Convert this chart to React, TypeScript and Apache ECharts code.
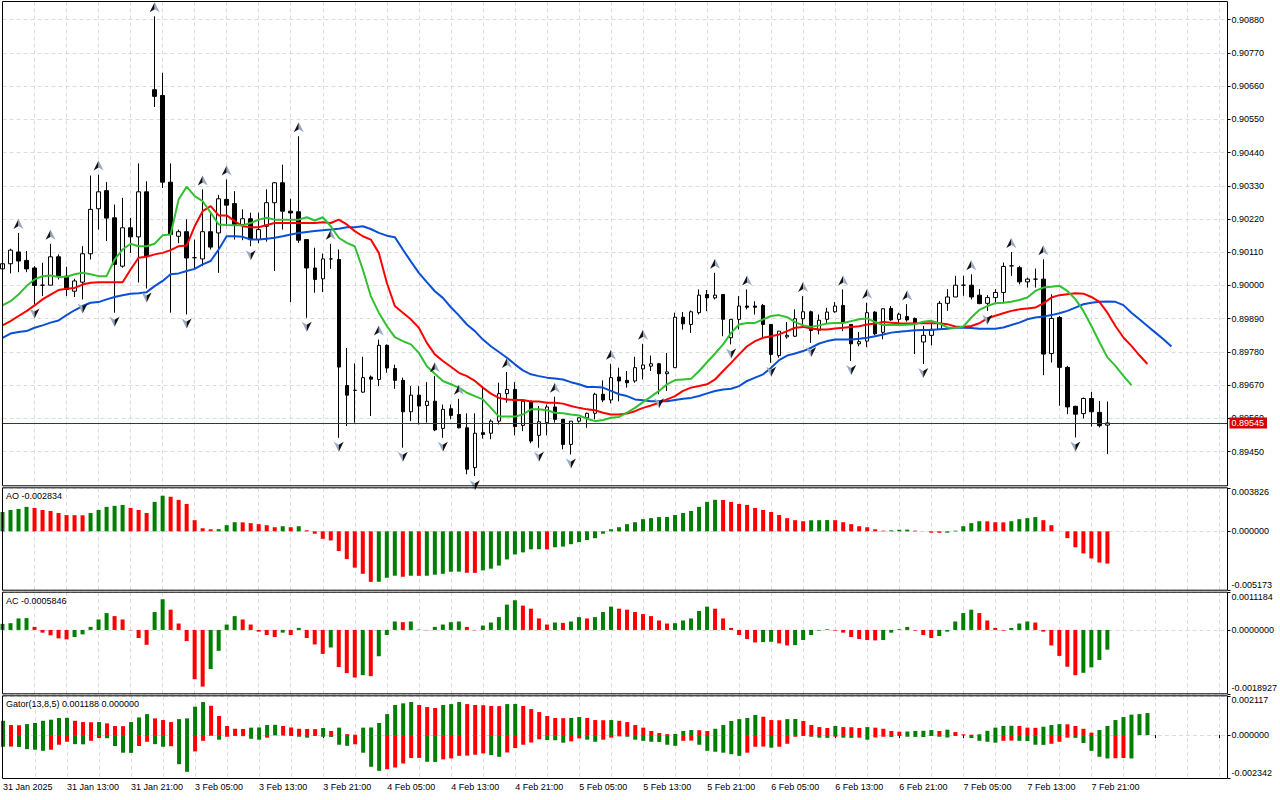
import React, { useEffect, useRef } from "react";
import * as echarts from "echarts";

const XLABELS = ["31 Jan 2025", "31 Jan 13:00", "31 Jan 21:00", "3 Feb 05:00", "3 Feb 13:00", "3 Feb 21:00", "4 Feb 05:00", "4 Feb 13:00", "4 Feb 21:00", "5 Feb 05:00", "5 Feb 13:00", "5 Feb 21:00", "6 Feb 05:00", "6 Feb 13:00", "6 Feb 21:00", "7 Feb 05:00", "7 Feb 13:00", "7 Feb 21:00"];

const OPEN = [0.90055, 0.90072, 0.90111, 0.90083, 0.90058, 0.90001, 0.90001, 0.90095, 0.90031, 0.89981, 0.90011, 0.90105, 0.90254, 0.90314, 0.90224, 0.90064, 0.90191, 0.90161, 0.90310, 0.90648, 0.90629, 0.90342, 0.90163, 0.90178, 0.90092, 0.90088, 0.90178, 0.90174, 0.90285, 0.90271, 0.90202, 0.90221, 0.90152, 0.90196, 0.90274, 0.90340, 0.90246, 0.90244, 0.90152, 0.90058, 0.90022, 0.90088, 0.90086, 0.89669, 0.89653, 0.89647, 0.89697, 0.89689, 0.89802, 0.89725, 0.89686, 0.89582, 0.89637, 0.89603, 0.89617, 0.89527, 0.89592, 0.89573, 0.89529, 0.89397, 0.89513, 0.89511, 0.89551, 0.89642, 0.89656, 0.89537, 0.89617, 0.89504, 0.89546, 0.89598, 0.89557, 0.89474, 0.89551, 0.89562, 0.89577, 0.89640, 0.89621, 0.89697, 0.89686, 0.89684, 0.89724, 0.89733, 0.89741, 0.89708, 0.89728, 0.89895, 0.89871, 0.89910, 0.89970, 0.89959, 0.89970, 0.89827, 0.89888, 0.89932, 0.89932, 0.89934, 0.89871, 0.89768, 0.89830, 0.89832, 0.89890, 0.89913, 0.89852, 0.89888, 0.89913, 0.89934, 0.89871, 0.89807, 0.89816, 0.89912, 0.89845, 0.89924, 0.89888, 0.89897, 0.89891, 0.89813, 0.89835, 0.89855, 0.89941, 0.89962, 0.90001, 0.90001, 0.89968, 0.89941, 0.89960, 0.89977, 0.90065, 0.90059, 0.90012, 0.90021, 0.90021, 0.89775, 0.89894, 0.89729, 0.89600, 0.89576, 0.89626, 0.89580, 0.89538];
const HIGH = [0.90080, 0.90122, 0.90174, 0.90114, 0.90064, 0.90075, 0.90138, 0.90103, 0.90062, 0.90022, 0.90130, 0.90364, 0.90367, 0.90342, 0.90268, 0.90290, 0.90224, 0.90404, 0.90345, 0.90891, 0.90704, 0.90404, 0.90185, 0.90219, 0.90152, 0.90318, 0.90240, 0.90300, 0.90351, 0.90312, 0.90252, 0.90241, 0.90241, 0.90318, 0.90342, 0.90400, 0.90287, 0.90494, 0.90152, 0.90125, 0.90106, 0.90138, 0.90119, 0.89793, 0.89742, 0.89764, 0.89702, 0.89821, 0.89805, 0.89738, 0.89695, 0.89667, 0.89667, 0.89680, 0.89700, 0.89606, 0.89606, 0.89625, 0.89577, 0.89577, 0.89667, 0.89557, 0.89678, 0.89714, 0.89680, 0.89623, 0.89617, 0.89601, 0.89606, 0.89632, 0.89557, 0.89551, 0.89562, 0.89579, 0.89645, 0.89686, 0.89741, 0.89728, 0.89717, 0.89764, 0.89807, 0.89768, 0.89744, 0.89777, 0.89910, 0.89912, 0.89917, 0.89987, 0.89985, 0.90042, 0.89970, 0.89888, 0.89965, 0.89987, 0.89948, 0.89939, 0.89871, 0.89849, 0.89879, 0.89921, 0.89965, 0.89917, 0.89904, 0.89926, 0.89945, 0.89987, 0.89871, 0.89846, 0.89943, 0.89915, 0.89925, 0.89932, 0.89910, 0.89938, 0.89894, 0.89866, 0.89877, 0.89949, 0.89988, 0.90032, 0.90032, 0.90037, 0.89988, 0.89968, 0.89988, 0.90076, 0.90111, 0.90065, 0.90026, 0.90056, 0.90087, 0.89971, 0.89899, 0.89734, 0.89602, 0.89629, 0.89648, 0.89618, 0.89616];
const LOW = [0.90040, 0.90040, 0.90044, 0.90044, 0.89937, 0.89965, 0.90001, 0.90020, 0.89965, 0.89962, 0.89954, 0.90086, 0.90185, 0.90147, 0.89910, 0.90059, 0.90108, 0.90010, 0.89990, 0.90591, 0.90323, 0.89910, 0.90140, 0.89904, 0.90055, 0.90064, 0.90119, 0.90042, 0.90196, 0.90152, 0.90150, 0.90130, 0.90140, 0.90145, 0.90048, 0.90185, 0.89945, 0.90141, 0.89893, 0.89976, 0.89978, 0.90055, 0.89496, 0.89535, 0.89546, 0.89645, 0.89568, 0.89667, 0.89711, 0.89658, 0.89463, 0.89551, 0.89540, 0.89546, 0.89518, 0.89496, 0.89557, 0.89527, 0.89375, 0.89369, 0.89493, 0.89491, 0.89540, 0.89612, 0.89504, 0.89518, 0.89478, 0.89463, 0.89504, 0.89546, 0.89458, 0.89441, 0.89546, 0.89529, 0.89557, 0.89614, 0.89610, 0.89617, 0.89662, 0.89678, 0.89689, 0.89717, 0.89640, 0.89651, 0.89728, 0.89854, 0.89843, 0.89904, 0.89915, 0.89954, 0.89832, 0.89805, 0.89854, 0.89921, 0.89904, 0.89824, 0.89744, 0.89761, 0.89824, 0.89830, 0.89865, 0.89810, 0.89838, 0.89873, 0.89910, 0.89849, 0.89750, 0.89799, 0.89796, 0.89835, 0.89822, 0.89883, 0.89872, 0.89880, 0.89773, 0.89740, 0.89802, 0.89855, 0.89916, 0.89962, 0.89966, 0.89954, 0.89938, 0.89916, 0.89943, 0.89941, 0.90032, 0.90004, 0.89993, 0.89993, 0.89703, 0.89745, 0.89602, 0.89574, 0.89497, 0.89560, 0.89533, 0.89530, 0.89442];
const CLOSE = [0.90072, 0.90117, 0.90081, 0.90055, 0.90000, 0.90001, 0.90095, 0.90031, 0.89987, 0.90015, 0.90105, 0.90252, 0.90310, 0.90223, 0.90070, 0.90191, 0.90161, 0.90310, 0.90097, 0.90626, 0.90342, 0.90169, 0.90178, 0.90091, 0.90092, 0.90178, 0.90127, 0.90287, 0.90266, 0.90202, 0.90221, 0.90152, 0.90185, 0.90274, 0.90340, 0.90246, 0.90240, 0.90150, 0.90058, 0.90020, 0.90088, 0.90088, 0.89730, 0.89637, 0.89653, 0.89695, 0.89690, 0.89802, 0.89727, 0.89686, 0.89582, 0.89637, 0.89601, 0.89617, 0.89522, 0.89590, 0.89570, 0.89529, 0.89392, 0.89511, 0.89507, 0.89551, 0.89642, 0.89656, 0.89533, 0.89617, 0.89485, 0.89549, 0.89598, 0.89557, 0.89474, 0.89551, 0.89562, 0.89577, 0.89640, 0.89621, 0.89695, 0.89684, 0.89678, 0.89728, 0.89737, 0.89741, 0.89708, 0.89714, 0.89895, 0.89873, 0.89913, 0.89968, 0.89959, 0.89968, 0.89888, 0.89888, 0.89932, 0.89928, 0.89928, 0.89871, 0.89772, 0.89849, 0.89835, 0.89890, 0.89913, 0.89851, 0.89885, 0.89912, 0.89932, 0.89879, 0.89807, 0.89814, 0.89910, 0.89840, 0.89923, 0.89886, 0.89905, 0.89886, 0.89874, 0.89835, 0.89855, 0.89941, 0.89962, 0.90001, 0.90001, 0.89962, 0.89940, 0.89960, 0.89977, 0.90063, 0.90065, 0.90012, 0.90021, 0.90021, 0.89773, 0.89891, 0.89729, 0.89598, 0.89574, 0.89626, 0.89582, 0.89536, 0.89545];

const JAW = [0.89827, 0.89841, 0.89846, 0.89849, 0.89860, 0.89868, 0.89877, 0.89884, 0.89902, 0.89918, 0.89932, 0.89943, 0.89945, 0.89954, 0.89962, 0.89968, 0.89973, 0.89974, 0.89978, 0.89998, 0.90015, 0.90037, 0.90040, 0.90048, 0.90055, 0.90070, 0.90081, 0.90119, 0.90163, 0.90163, 0.90161, 0.90152, 0.90152, 0.90155, 0.90158, 0.90163, 0.90169, 0.90174, 0.90177, 0.90180, 0.90183, 0.90185, 0.90188, 0.90193, 0.90193, 0.90196, 0.90187, 0.90174, 0.90165, 0.90160, 0.90119, 0.90080, 0.90042, 0.90011, 0.89981, 0.89959, 0.89928, 0.89901, 0.89871, 0.89849, 0.89821, 0.89799, 0.89780, 0.89761, 0.89739, 0.89719, 0.89706, 0.89700, 0.89695, 0.89692, 0.89689, 0.89680, 0.89673, 0.89664, 0.89664, 0.89662, 0.89651, 0.89640, 0.89634, 0.89623, 0.89620, 0.89617, 0.89617, 0.89617, 0.89621, 0.89625, 0.89628, 0.89634, 0.89643, 0.89651, 0.89656, 0.89658, 0.89667, 0.89684, 0.89695, 0.89706, 0.89728, 0.89753, 0.89768, 0.89775, 0.89783, 0.89794, 0.89808, 0.89816, 0.89821, 0.89821, 0.89821, 0.89824, 0.89827, 0.89832, 0.89838, 0.89844, 0.89847, 0.89849, 0.89852, 0.89853, 0.89853, 0.89855, 0.89857, 0.89860, 0.89860, 0.89859, 0.89857, 0.89857, 0.89857, 0.89861, 0.89869, 0.89877, 0.89888, 0.89894, 0.89897, 0.89902, 0.89908, 0.89916, 0.89927, 0.89938, 0.89943, 0.89946, 0.89947, 0.89946, 0.89935, 0.89910, 0.89888, 0.89866, 0.89844, 0.89822, 0.89798];
const TEETH = [0.89868, 0.89882, 0.89899, 0.89915, 0.89934, 0.89954, 0.89970, 0.89985, 0.89989, 0.89992, 0.90003, 0.90009, 0.90011, 0.90011, 0.90011, 0.90011, 0.90053, 0.90092, 0.90095, 0.90103, 0.90108, 0.90117, 0.90130, 0.90132, 0.90196, 0.90246, 0.90263, 0.90232, 0.90232, 0.90213, 0.90196, 0.90193, 0.90193, 0.90200, 0.90207, 0.90207, 0.90207, 0.90207, 0.90207, 0.90207, 0.90209, 0.90207, 0.90218, 0.90202, 0.90180, 0.90163, 0.90152, 0.90108, 0.90009, 0.89932, 0.89910, 0.89888, 0.89860, 0.89810, 0.89772, 0.89750, 0.89731, 0.89711, 0.89700, 0.89684, 0.89662, 0.89642, 0.89628, 0.89623, 0.89621, 0.89621, 0.89616, 0.89616, 0.89612, 0.89612, 0.89609, 0.89601, 0.89595, 0.89590, 0.89587, 0.89579, 0.89573, 0.89573, 0.89576, 0.89584, 0.89595, 0.89603, 0.89612, 0.89623, 0.89634, 0.89651, 0.89662, 0.89667, 0.89673, 0.89689, 0.89717, 0.89744, 0.89772, 0.89799, 0.89816, 0.89827, 0.89832, 0.89838, 0.89849, 0.89860, 0.89863, 0.89858, 0.89854, 0.89854, 0.89858, 0.89860, 0.89863, 0.89865, 0.89871, 0.89874, 0.89879, 0.89877, 0.89875, 0.89874, 0.89875, 0.89875, 0.89875, 0.89875, 0.89872, 0.89864, 0.89863, 0.89866, 0.89875, 0.89891, 0.89900, 0.89908, 0.89916, 0.89921, 0.89924, 0.89927, 0.89941, 0.89960, 0.89968, 0.89971, 0.89974, 0.89973, 0.89962, 0.89946, 0.89910, 0.89866, 0.89828, 0.89800, 0.89769, 0.89740];
const LIPS = [0.89934, 0.89948, 0.89970, 0.89998, 0.90020, 0.90031, 0.90033, 0.90028, 0.90029, 0.90037, 0.90042, 0.90037, 0.90031, 0.90031, 0.90086, 0.90119, 0.90138, 0.90130, 0.90130, 0.90138, 0.90166, 0.90169, 0.90285, 0.90327, 0.90296, 0.90279, 0.90241, 0.90202, 0.90200, 0.90199, 0.90199, 0.90207, 0.90218, 0.90224, 0.90218, 0.90218, 0.90218, 0.90218, 0.90226, 0.90215, 0.90226, 0.90196, 0.90158, 0.90141, 0.90130, 0.90053, 0.89965, 0.89910, 0.89866, 0.89829, 0.89816, 0.89805, 0.89777, 0.89733, 0.89708, 0.89684, 0.89673, 0.89662, 0.89645, 0.89634, 0.89623, 0.89595, 0.89566, 0.89566, 0.89566, 0.89573, 0.89590, 0.89590, 0.89587, 0.89579, 0.89577, 0.89573, 0.89570, 0.89559, 0.89551, 0.89555, 0.89562, 0.89565, 0.89579, 0.89595, 0.89614, 0.89632, 0.89651, 0.89673, 0.89687, 0.89689, 0.89691, 0.89717, 0.89746, 0.89775, 0.89805, 0.89843, 0.89871, 0.89876, 0.89876, 0.89888, 0.89899, 0.89902, 0.89895, 0.89879, 0.89868, 0.89863, 0.89868, 0.89874, 0.89876, 0.89876, 0.89882, 0.89888, 0.89891, 0.89879, 0.89869, 0.89869, 0.89869, 0.89870, 0.89872, 0.89880, 0.89883, 0.89875, 0.89861, 0.89859, 0.89864, 0.89894, 0.89919, 0.89932, 0.89941, 0.89943, 0.89946, 0.89952, 0.89960, 0.89982, 0.89993, 0.89996, 0.89999, 0.89982, 0.89955, 0.89916, 0.89866, 0.89813, 0.89762, 0.89734, 0.89701, 0.89670];

const FRACTAL_UP = [2, 6, 12, 19, 25, 28, 37, 41, 47, 54, 57, 63, 69, 76, 80, 89, 93, 100, 105, 108, 113, 121, 126, 130];
const FRACTAL_DOWN = [4, 10, 14, 18, 23, 31, 38, 42, 50, 55, 59, 67, 71, 82, 91, 96, 101, 106, 115, 123, 134];

const AO = [0.00170, 0.00188, 0.00197, 0.00215, 0.00206, 0.00188, 0.00179, 0.00161, 0.00143, 0.00142, 0.00141, 0.00161, 0.00188, 0.00215, 0.00224, 0.00232, 0.00206, 0.00188, 0.00161, 0.00259, 0.00313, 0.00304, 0.00277, 0.00241, 0.00098, 0.00027, 0.00018, 0.00019, 0.00054, 0.00080, 0.00079, 0.00072, 0.00063, 0.00054, 0.00036, 0.00045, 0.00036, 0.00045, 0.00009, -0.00021, -0.00066, -0.00080, -0.00173, -0.00244, -0.00319, -0.00373, -0.00444, -0.00443, -0.00408, -0.00390, -0.00399, -0.00390, -0.00391, -0.00390, -0.00381, -0.00373, -0.00355, -0.00354, -0.00364, -0.00365, -0.00343, -0.00328, -0.00301, -0.00247, -0.00203, -0.00185, -0.00158, -0.00157, -0.00159, -0.00140, -0.00134, -0.00113, -0.00095, -0.00077, -0.00060, -0.00021, 0.00018, 0.00036, 0.00063, 0.00080, 0.00107, 0.00116, 0.00125, 0.00126, 0.00143, 0.00161, 0.00179, 0.00215, 0.00259, 0.00277, 0.00276, 0.00259, 0.00241, 0.00232, 0.00206, 0.00188, 0.00170, 0.00143, 0.00116, 0.00098, 0.00089, 0.00097, 0.00098, 0.00099, 0.00098, 0.00080, 0.00063, 0.00045, 0.00036, 0.00018, 0.00006, 0.00009, 0.00014, 0.00015, 0.00006, -0.00001, -0.00012, -0.00013, -0.00012, 0.00006, 0.00045, 0.00072, 0.00089, 0.00088, 0.00080, 0.00079, 0.00089, 0.00107, 0.00116, 0.00125, 0.00098, 0.00054, -0.00001, -0.00060, -0.00140, -0.00194, -0.00238, -0.00274, -0.002834];
const AC = [0.00018, 0.00020, 0.00034, 0.00035, 0.00009, -0.00008, -0.00016, -0.00025, -0.00028, -0.00021, -0.00013, 0.00009, 0.00031, 0.00050, 0.00041, 0.00031, -0.00001, -0.00024, -0.00044, 0.00053, 0.00091, 0.00060, 0.00019, -0.00033, -0.00146, -0.00168, -0.00116, -0.00062, 0.00016, 0.00041, 0.00031, 0.00016, -0.00005, -0.00015, -0.00021, -0.00008, -0.00015, 0.00006, -0.00024, -0.00043, -0.00071, -0.00052, -0.00110, -0.00128, -0.00141, -0.00134, -0.00137, -0.00078, -0.00015, 0.00025, 0.00023, 0.00025, 0.00001, -0.00001, 0.00009, 0.00016, 0.00023, 0.00025, 0.00009, -0.00001, 0.00013, 0.00022, 0.00038, 0.00075, 0.00088, 0.00072, 0.00063, 0.00034, 0.00016, 0.00022, 0.00021, 0.00025, 0.00038, 0.00034, 0.00038, 0.00053, 0.00069, 0.00063, 0.00060, 0.00053, 0.00047, 0.00041, 0.00028, 0.00019, 0.00020, 0.00028, 0.00034, 0.00056, 0.00069, 0.00063, 0.00034, 0.00006, -0.00015, -0.00027, -0.00037, -0.00036, -0.00035, -0.00040, -0.00046, -0.00045, -0.00030, -0.00015, -0.00002, 0.00002, -0.00002, -0.00008, -0.00021, -0.00027, -0.00030, -0.00031, -0.00030, -0.00008, 0.00002, 0.00009, -0.00002, -0.00015, -0.00024, -0.00018, -0.00005, 0.00025, 0.00050, 0.00060, 0.00050, 0.00028, 0.00006, -0.00002, 0.00006, 0.00019, 0.00025, 0.00022, -0.00005, -0.00046, -0.00077, -0.00109, -0.00134, -0.00127, -0.00111, -0.00089, -0.0005846];
const GATOR_UP = [0.00077, 0.00054, 0.00053, 0.00059, 0.00065, 0.00077, 0.00083, 0.00092, 0.00093, 0.00077, 0.00070, 0.00069, 0.00070, 0.00063, 0.00049, 0.00048, 0.00070, 0.00095, 0.00113, 0.00090, 0.00081, 0.00070, 0.00086, 0.00090, 0.00153, 0.00178, 0.00158, 0.00103, 0.00049, 0.00034, 0.00033, 0.00040, 0.00041, 0.00054, 0.00055, 0.00049, 0.00041, 0.00034, 0.00033, 0.00032, 0.00038, 0.00022, 0.00040, 0.00005, 0.00002, 0.00040, 0.00041, 0.00065, 0.00113, 0.00162, 0.00171, 0.00178, 0.00162, 0.00151, 0.00146, 0.00162, 0.00167, 0.00178, 0.00167, 0.00162, 0.00161, 0.00157, 0.00156, 0.00167, 0.00168, 0.00157, 0.00140, 0.00124, 0.00103, 0.00092, 0.00091, 0.00092, 0.00097, 0.00092, 0.00081, 0.00080, 0.00081, 0.00077, 0.00070, 0.00054, 0.00040, 0.00022, 0.00011, 0.00005, 0.00006, 0.00022, 0.00027, 0.00026, 0.00022, 0.00034, 0.00054, 0.00076, 0.00086, 0.00092, 0.00108, 0.00099, 0.00081, 0.00080, 0.00086, 0.00087, 0.00076, 0.00054, 0.00043, 0.00038, 0.00049, 0.00043, 0.00042, 0.00038, 0.00043, 0.00040, 0.00034, 0.00022, 0.00018, 0.00019, 0.00022, 0.00023, 0.00027, 0.00022, 0.00029, 0.00016, 0.00004, 0.00002, 0.00004, 0.00023, 0.00040, 0.00049, 0.00050, 0.00049, 0.00040, 0.00039, 0.00045, 0.00054, 0.00059, 0.00058, 0.00049, 0.00034, 0.00013, 0.00027, 0.00049, 0.00081, 0.00097, 0.00110, 0.00113, 0.001188];
const GATOR_DOWN = [-0.00063, -0.00062, -0.00064, -0.00076, -0.00079, -0.00085, -0.00079, -0.00052, -0.00036, -0.00049, -0.00050, -0.00031, -0.00016, -0.00017, -0.00059, -0.00095, -0.00096, -0.00059, -0.00036, -0.00049, -0.00063, -0.00060, -0.00157, -0.00198, -0.00088, -0.00031, -0.00004, -0.00025, -0.00009, -0.00005, -0.00006, -0.00020, -0.00025, -0.00014, -0.00002, -0.00003, -0.00005, -0.00009, -0.00014, -0.00005, -0.00009, -0.00010, -0.00052, -0.00058, -0.00050, -0.00095, -0.00171, -0.00193, -0.00184, -0.00175, -0.00153, -0.00124, -0.00123, -0.00144, -0.00145, -0.00131, -0.00126, -0.00112, -0.00111, -0.00106, -0.00099, -0.00108, -0.00117, -0.00094, -0.00070, -0.00052, -0.00040, -0.00023, -0.00027, -0.00028, -0.00041, -0.00034, -0.00018, -0.00025, -0.00036, -0.00025, -0.00014, -0.00007, -0.00009, -0.00025, -0.00031, -0.00036, -0.00037, -0.00052, -0.00058, -0.00031, -0.00030, -0.00052, -0.00085, -0.00090, -0.00095, -0.00103, -0.00112, -0.00095, -0.00063, -0.00062, -0.00068, -0.00063, -0.00047, -0.00009, -0.00005, -0.00009, -0.00014, -0.00015, -0.00009, -0.00014, -0.00015, -0.00014, -0.00025, -0.00013, -0.00009, -0.00010, -0.00005, -0.00009, -0.00010, -0.00011, -0.00005, -0.00009, -0.00013, -0.00005, -0.00002, -0.00016, -0.00031, -0.00036, -0.00041, -0.00031, -0.00030, -0.00031, -0.00032, -0.00052, -0.00053, -0.00047, -0.00036, -0.00014, -0.00015, -0.00043, -0.00085, -0.00117, -0.00126, -0.00125, -0.00124, -0.00126];

const PRICE_TICKS = [0.9088, 0.9077, 0.9066, 0.9055, 0.9044, 0.9033, 0.9022, 0.9011, 0.9, 0.8989, 0.8978, 0.8967, 0.8956, 0.8945];
const LAST_PRICE = 0.89545;
const AO_TICKS = [0.003826, 0, -0.005173];
const AC_TICKS = [0.0011184, 0, -0.0018927];
const GATOR_TICKS = [0.002117, 0, -0.002342];

const N_CATS = 154;
const GREEN = "#008000";
const RED = "#ff0000";
const FONT = "Liberation Sans, Arial, sans-serif";

function App() {
  const ref = useRef<HTMLDivElement>(null);

  useEffect(() => {
    if (!ref.current) return;
    const chart = echarts.init(ref.current, null, { renderer: "svg" });

    const cats = Array.from({ length: N_CATS }, (_, i) => String(i));
    const L = 2.5;
    const W = 1225;
    const panels = [
      { top: 1.5, height: 484.3 },
      { top: 487.8, height: 102.4 },
      { top: 592.2, height: 101.6 },
      { top: 695.8, height: 82.7 },
    ];
    const grids = panels.map((g) => ({ left: L, width: W, top: g.top, height: g.height, show: false }));
    const frames = panels.map((g) => ({
      type: "rect",
      z: 100,
      silent: true,
      shape: { x: L, y: g.top, width: W, height: g.height },
      style: { fill: "none", stroke: "#000", lineWidth: 1 },
    }));

    const gridSplit = { show: true, lineStyle: { color: "#dcdcdc", type: [4, 3] as any, width: 1 } };

    const xAxes = [0, 1, 2, 3].map((gi) => ({
      type: "category",
      gridIndex: gi,
      data: cats,
      boundaryGap: false,
      axisLine: { show: false },
      axisTick: gi === 3 ? { show: true, interval: 7, length: 3, lineStyle: { color: "#000" } } : { show: false },
      axisLabel:
        gi === 3
          ? {
              show: true,
              interval: 7,
              align: "left",
              margin: 4,
              fontSize: 9,
              fontFamily: FONT,
              color: "#000",
              formatter: (_v: string, idx: number) => (idx % 8 === 0 && XLABELS[idx / 8]) || "",
            }
          : { show: false },
      splitLine: { ...gridSplit, interval: (idx: number) => idx % 4 === 0 && idx > 0 },
    }));

    const edgeRich = {
      top: { padding: [9, 0, 0, 0], fontSize: 9, fontFamily: FONT, color: "#000" },
      bot: { padding: [0, 0, 11, 0], fontSize: 9, fontFamily: FONT, color: "#000" },
      mid: { fontSize: 9, fontFamily: FONT, color: "#000" },
    };
    const subAxis = (gi: number, ticks: number[], digits: number) => ({
      type: "value",
      gridIndex: gi,
      position: "right",
      min: ticks[2],
      max: ticks[0],
      axisLine: { show: false },
      axisTick: { show: true, length: 3, lineStyle: { color: "#000" }, customValues: ticks },
      axisLabel: {
        show: true,
        margin: 4,
        customValues: ticks,
        fontSize: 9,
        fontFamily: FONT,
        color: "#000",
        rich: edgeRich,
        formatter: (v: number) => {
          const s = v === 0 ? (0).toFixed(digits) : v.toFixed(digits);
          if (Math.abs(v - ticks[0]) < 1e-12) return `{top|${s}}`;
          if (Math.abs(v - ticks[2]) < 1e-12) return `{bot|${s}}`;
          return `{mid|${s}}`;
        },
      },
      splitLine: gridSplit,
    });

    const yAxes = [
      {
        type: "value",
        gridIndex: 0,
        position: "right",
        min: 0.89337,
        max: 0.9094,
        axisLine: { show: false },
        axisTick: { show: true, length: 3, lineStyle: { color: "#000" }, customValues: PRICE_TICKS },
        axisLabel: {
          show: true,
          margin: 4,
          customValues: PRICE_TICKS,
          fontSize: 9,
          fontFamily: FONT,
          color: "#000",
          formatter: (v: number) => v.toFixed(5),
        },
        splitLine: gridSplit,
      },
      subAxis(1, AO_TICKS, 6),
      subAxis(2, AC_TICKS, 7),
      subAxis(3, GATOR_TICKS, 6),
    ];

    const trendColored = (arr: number[]) =>
      arr.map((v, i) => ({ value: v, itemStyle: { color: i === 0 || v > arr[i - 1] ? GREEN : RED } }));
    const absColored = (arr: number[]) =>
      arr.map((v, i) => ({ value: v, itemStyle: { color: i === 0 || Math.abs(v) > Math.abs(arr[i - 1]) ? GREEN : RED } }));

    const candleData = OPEN.map((o, i) => [o, CLOSE[i], LOW[i], HIGH[i]]);
    const upPts = FRACTAL_UP.map((i) => [i, HIGH[i]]);
    const dnPts = FRACTAL_DOWN.map((i) => [i, LOW[i]]);

    const fractal = (data: number[][], path: string, color: string, off: number[]) => ({
      type: "scatter",
      xAxisIndex: 0,
      yAxisIndex: 0,
      data,
      symbol: path,
      symbolSize: [5, 10],
      symbolOffset: off,
      itemStyle: { color, opacity: 1 },
      silent: true,
      z: 5,
    });

    const option: any = {
      animation: false,
      backgroundColor: "#fff",
      grid: grids,
      xAxis: xAxes,
      yAxis: yAxes,
      graphic: [
        ...frames,
        { type: "text", left: 6, top: 491, z: 101, style: { text: `AO ${AO[AO.length - 1].toFixed(6)}`, fontSize: 9, fontFamily: FONT, fill: "#000" } },
        { type: "text", left: 6, top: 596, z: 101, style: { text: `AC ${AC[AC.length - 1].toFixed(7)}`, fontSize: 9, fontFamily: FONT, fill: "#000" } },
        { type: "text", left: 6, top: 699, z: 101, style: { text: `Gator(13,8,5) ${GATOR_UP[GATOR_UP.length - 1].toFixed(6)} 0.000000`, fontSize: 9, fontFamily: FONT, fill: "#000" } },
      ],
      series: [
        {
          type: "candlestick",
          xAxisIndex: 0,
          yAxisIndex: 0,
          data: candleData,
          barWidth: 4,
          itemStyle: { color: "#ffffff", color0: "#000000", borderColor: "#000000", borderColor0: "#000000", borderWidth: 1 },
          z: 2,
        },
        {
          type: "line",
          xAxisIndex: 0,
          yAxisIndex: 0,
          data: JAW,
          showSymbol: false,
          lineStyle: { color: "#0a4fd6", width: 2 },
          z: 3,
          silent: true,
          markLine: {
            silent: true,
            precision: 5,
            symbol: ["none", "none"],
            animation: false,
            data: [{ yAxis: LAST_PRICE }],
            lineStyle: { color: "#b00000", width: 1, type: "solid" },
            label: {
              show: true,
              position: "end",
              distance: 2,
              formatter: LAST_PRICE.toFixed(5),
              backgroundColor: "#d40000",
              color: "#fff",
              padding: [1, 3, 1, 2],
              fontSize: 9,
              fontFamily: FONT,
            },
          },
        },
        { type: "line", xAxisIndex: 0, yAxisIndex: 0, data: TEETH, showSymbol: false, lineStyle: { color: "#ff0000", width: 2 }, z: 3, silent: true },
        { type: "line", xAxisIndex: 0, yAxisIndex: 0, data: LIPS, showSymbol: false, lineStyle: { color: "#30c030", width: 2 }, z: 3, silent: true },
        fractal(upPts, "path://M5 0 L5 7 L0 10 Z", "#111111", [-2.5, -9]),
        fractal(upPts, "path://M0 0 L5 10 L0 7 Z", "#9aa8c4", [2.5, -9]),
        fractal(dnPts, "path://M0 0 L5 3 L5 10 Z", "#9aa8c4", [-2.5, 9]),
        fractal(dnPts, "path://M5 0 L0 3 L0 10 Z", "#111111", [2.5, 9]),
        { type: "bar", xAxisIndex: 1, yAxisIndex: 1, data: trendColored(AO), barWidth: 4, silent: true },
        { type: "bar", xAxisIndex: 2, yAxisIndex: 2, data: trendColored(AC), barWidth: 4, silent: true },
        { type: "bar", xAxisIndex: 3, yAxisIndex: 3, data: absColored(GATOR_UP), barWidth: 4, barGap: "-100%", silent: true },
        { type: "bar", xAxisIndex: 3, yAxisIndex: 3, data: absColored(GATOR_DOWN), barWidth: 4, barGap: "-100%", silent: true },
      ],
    };

    chart.setOption(option);
    return () => chart.dispose();
  }, []);

  return <div ref={ref} style={{ position: "absolute", left: 0, top: 0, width: 1280, height: 800, background: "#fff" }} />;
}

export default App;
